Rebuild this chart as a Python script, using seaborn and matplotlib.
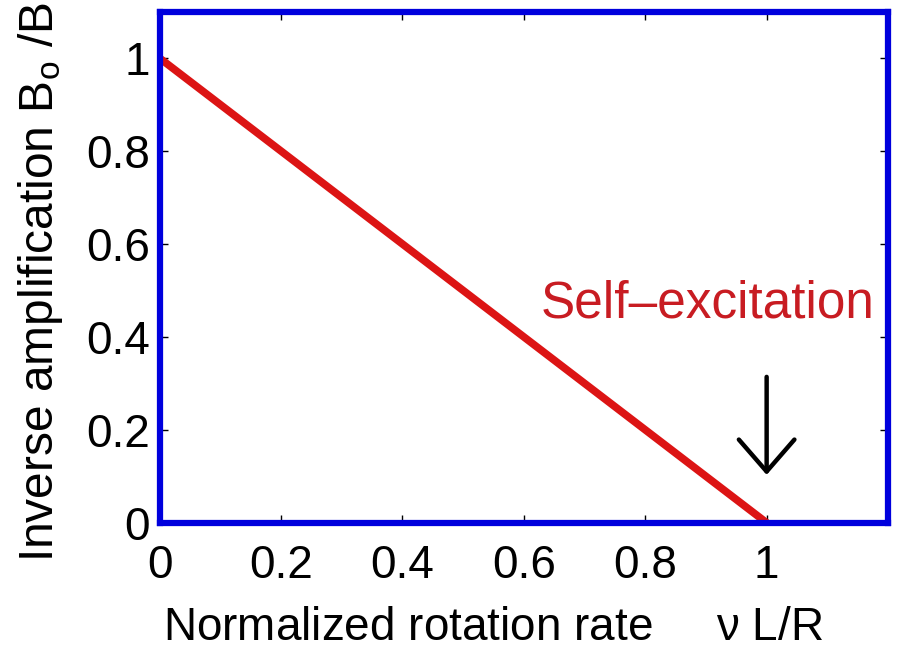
import matplotlib
matplotlib.use("Agg")
import matplotlib.pyplot as plt
import seaborn as sns
import pandas as pd

rate = [0.0, 1.0]
inverse_amp = [1.0, 0.0]
xticks = [0, 0.2, 0.4, 0.6, 0.8, 1]
yticks = [0, 0.2, 0.4, 0.6, 0.8, 1]
xtick_labels = ["0", "0.2", "0.4", "0.6", "0.8", "1"]
ytick_labels = ["0", "0.2", "0.4", "0.6", "0.8", "1"]

sns.set_theme(style="white")
plt.rcParams['font.family'] = ['Liberation Sans', 'DejaVu Sans']
plt.rcParams['mathtext.fontset'] = 'custom'
plt.rcParams['mathtext.rm'] = 'Liberation Sans'
plt.rcParams['mathtext.it'] = 'Liberation Sans'

df = pd.DataFrame({"rate": rate, "inv": inverse_amp})

fig = plt.figure(figsize=(8.97, 6.51), dpi=100)
ax = fig.add_axes([0.178, 0.197, 0.812, 0.785])
sns.lineplot(data=df, x="rate", y="inv", ax=ax, color="#dc1414", linewidth=5.5)

ax.set_xlim(0, 1.2)
ax.set_ylim(0, 1.1)
ax.set_xticks(xticks)
ax.set_xticklabels(xtick_labels)
ax.set_yticks(yticks)
ax.set_yticklabels(ytick_labels)
ax.tick_params(direction="in", length=6, width=1, colors="black", labelsize=33,
               top=True, right=True, bottom=True, left=True)
ax.tick_params(axis="x", pad=15)
ax.tick_params(axis="y", pad=7)
for s in ax.spines.values():
    s.set_color("#0000dd")
    s.set_linewidth(4.5)

ax.set_xlabel(r"Normalized rotation rate     $\nu$ L/R", fontsize=33, color="black")
ax.set_ylabel(r"Inverse amplification B$_{\mathrm{o}}$ /B", fontsize=34.5, color="black")
ax.xaxis.set_label_coords(0.458, -0.162)
ax.yaxis.set_label_coords(-0.13, 0.472)

ax.text(0.627, 0.441, "Self\u2013excitation", color="#c81c22", fontsize=37, va="baseline", ha="left")
ax.annotate("", xy=(1.0, 0.103), xytext=(1.0, 0.314),
            arrowprops=dict(arrowstyle="->,head_length=1.15,head_width=1.0", color="black",
                            lw=3.2, mutation_scale=20, shrinkA=0, shrinkB=0))

fig.savefig("out.png", dpi=100)
